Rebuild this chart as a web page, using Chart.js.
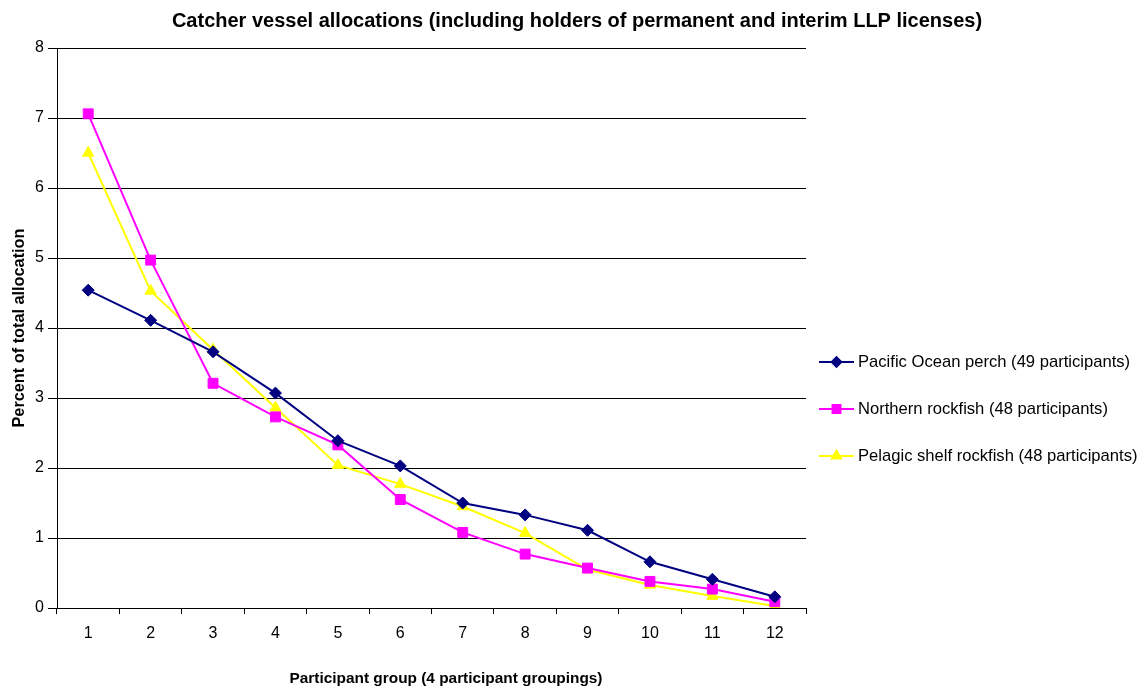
<!DOCTYPE html>
<html>
<head>
<meta charset="utf-8">
<script src="https://cdn.jsdelivr.net/npm/chart.js@4.4.0/dist/chart.umd.min.js"></script>
<style>
    html, body { margin: 0; padding: 0; background: #fff; }
    #wrap { width: 1144px; height: 690px; }
</style>
</head>
<body>
<div id="wrap"><canvas id="chart"></canvas></div>
<script>
// Datos
const groups = ['1', '2', '3', '4', '5', '6', '7', '8', '9', '10', '11', '12'];
const pacificPerch = [4.54, 4.11, 3.66, 3.07, 2.39, 2.03, 1.50, 1.33, 1.11, 0.66, 0.41, 0.16];
const northernRockfish = [7.06, 4.97, 3.21, 2.73, 2.33, 1.55, 1.08, 0.77, 0.57, 0.38, 0.27, 0.09];
const pelagicShelf = [6.50, 4.53, 3.69, 2.86, 2.04, 1.77, 1.45, 1.07, 0.55, 0.33, 0.17, 0.03];
const seriesNames = [
    'Pacific Ocean perch (49 participants)',
    'Northern rockfish (48 participants)',
    'Pelagic shelf rockfish (48 participants)'
];
const chartTitle = 'Catcher vessel allocations (including holders of permanent and interim LLP licenses)';
const xTitle = 'Participant group (4 participant groupings)';
const yTitle = 'Percent of total allocation';
const yMax = 8;

const FONT = "'Liberation Sans', Arial, sans-serif";

// Títulos y leyenda estilo Excel (línea + marcador)
const excelDecor = {
    id: 'excelDecor',
    afterDraw(chart) {
        const ctx = chart.ctx;
        ctx.save();
        ctx.fillStyle = '#000';
        ctx.textAlign = 'center';
        ctx.textBaseline = 'middle';
        ctx.font = 'bold 20px ' + FONT;
        ctx.fillText(chartTitle, 577, 21);
        ctx.font = 'bold 15.4px ' + FONT;
        ctx.fillText(xTitle, 446, 679);

        chart.data.datasets.forEach((ds, i) => {
            const y = 362 + i * 47;
            ctx.strokeStyle = ds.borderColor;
            ctx.lineWidth = 2;
            ctx.beginPath();
            ctx.moveTo(819, y);
            ctx.lineTo(854, y);
            ctx.stroke();
            ctx.fillStyle = ds.pointBackgroundColor;
            ctx.strokeStyle = ds.pointBorderColor;
            Chart.helpers.drawPoint(ctx, {
                pointStyle: ds.pointStyle,
                radius: ds.pointRadius * 0.8,
                borderWidth: 1,
                rotation: 0
            }, 836.5, y);
            ctx.fillStyle = '#000';
            ctx.font = '16.6px ' + FONT;
            ctx.textAlign = 'left';
            ctx.fillText(seriesNames[i], 858, y);
        });
        ctx.restore();
    }
};

function makeDataset(label, data, color, style, radius) {
    return {
        label: label,
        data: data,
        borderColor: color,
        backgroundColor: color,
        pointBackgroundColor: color,
        pointBorderColor: color,
        pointStyle: style,
        pointRadius: radius,
        pointHoverRadius: radius,
        pointBorderWidth: 1,
        borderWidth: 2,
        tension: 0,
        fill: false
    };
}

const ctx = document.getElementById('chart').getContext('2d');
new Chart(ctx, {
    type: 'line',
    data: {
        labels: groups,
        datasets: [
            makeDataset(seriesNames[0], pacificPerch, '#000080', 'rectRot', 6),
            makeDataset(seriesNames[1], northernRockfish, '#FF00FF', 'rect', 7),
            makeDataset(seriesNames[2], pelagicShelf, '#FFFF00', 'triangle', 6.5)
        ]
    },
    options: {
        responsive: true,
        maintainAspectRatio: false,
        animation: false,
        layout: {
            padding: { left: 0, right: 338, top: 48, bottom: 0 }
        },
        plugins: {
            legend: { display: false },
            tooltip: { enabled: false },
            title: { display: false }
        },
        scales: {
            x: {
                offset: true,
                grid: {
                    display: true,
                    offset: true,
                    drawOnChartArea: false,
                    color: '#000',
                    tickLength: 6,
                    tickColor: '#000'
                },
                border: { color: '#000', width: 1 },
                ticks: {
                    color: '#000',
                    font: { family: FONT, size: 16 },
                    padding: 10,
                    maxRotation: 0
                },
                afterFit(scale) { scale.height = 82; }
            },
            y: {
                min: 0,
                max: yMax,
                grid: {
                    color: '#000',
                    lineWidth: 1,
                    tickLength: 9,
                    tickColor: '#000'
                },
                border: { color: '#000', width: 1 },
                ticks: {
                    stepSize: 1,
                    color: '#000',
                    font: { family: FONT, size: 16 },
                    padding: 4
                },
                title: {
                    display: true,
                    text: yTitle,
                    color: '#000',
                    font: { family: FONT, size: 16.3, weight: 'bold' },
                    padding: { top: 10, bottom: 0 }
                },
                afterFit(scale) { scale.width = 57; }
            }
        }
    },
    plugins: [excelDecor]
});
</script>
</body>
</html>
